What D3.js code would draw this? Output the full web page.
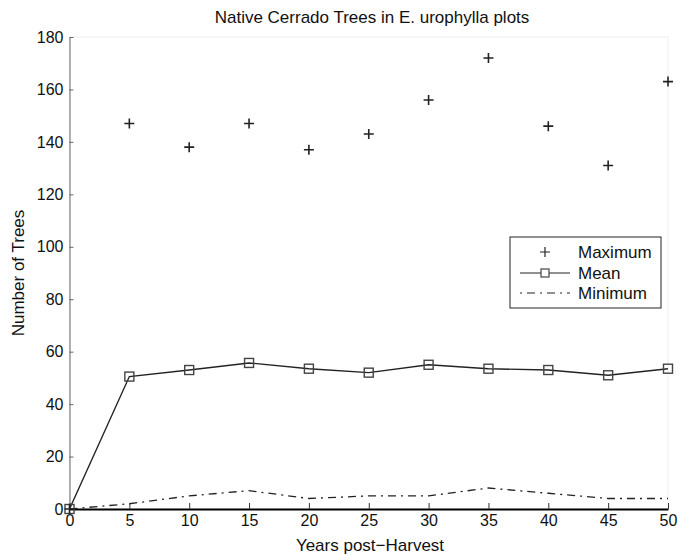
<!DOCTYPE html>
<html>
<head>
<meta charset="utf-8">
<script src="https://cdn.jsdelivr.net/npm/d3@7"></script>
<style>
  body { margin: 0; background: #fff; }
  svg { display: block; font-family: "Liberation Sans", Arial, sans-serif; }
</style>
</head>
<body>
<div id="chart"></div>
<script>
// values
const years = [0, 5, 10, 15, 20, 25, 30, 35, 40, 45, 50];
const maxTrees = [0, 147, 138, 147, 137, 143, 156, 172, 146, 131, 163];
const meanTrees = [0, 50.5, 53, 55.7, 53.5, 52, 55, 53.5, 53, 51, 53.5];
const minTrees = [0, 2, 5, 7, 4, 5, 5, 8, 6, 4, 4];
const xTicks = [0, 5, 10, 15, 20, 25, 30, 35, 40, 45, 50];
const yTicks = [0, 20, 40, 60, 80, 100, 120, 140, 160, 180];
const legendLabels = ['Maximum', 'Mean', 'Minimum'];

const width = 678, height = 555;
const margins = { left: 69.5, right: 10, top: 37, bottom: 46 };

const svg = d3.select('#chart').append('svg')
  .attr('width', width)
  .attr('height', height);

const x = d3.scaleLinear()
  .domain([0, 50])
  .range([margins.left, width - margins.right]);

const y = d3.scaleLinear()
  .domain([0, 180])
  .range([height - margins.bottom, margins.top]);

// faint box on top / right like matlab
svg.append('rect')
  .attr('x', x(0)).attr('y', y(180))
  .attr('width', x(50) - x(0)).attr('height', y(0) - y(180))
  .attr('fill', 'none').attr('stroke', '#eee');

// y axis, ticks pointing in
const yAxis = d3.axisLeft(y).tickValues(yTicks).tickSizeInner(-4).tickSizeOuter(0).tickPadding(6);
const gy = svg.append('g')
  .attr('transform', 'translate(' + x(0) + ',0)')
  .call(yAxis);
gy.select('.domain').attr('stroke', '#666');
gy.selectAll('.tick line').attr('stroke', '#666');
gy.selectAll('text').attr('font-size', 16).attr('fill', '#111');

// x axis
const xAxis = d3.axisBottom(x).tickValues(xTicks).tickSizeInner(-6).tickSizeOuter(0).tickPadding(6);
const gx = svg.append('g')
  .attr('transform', 'translate(0,' + y(0) + ')')
  .call(xAxis);
gx.select('.domain').attr('stroke', '#000').attr('stroke-width', 2);
gx.selectAll('.tick line').attr('stroke', '#333');
gx.selectAll('text').attr('font-size', 16).attr('fill', '#111');

// minimum: dash-dot line
svg.append('path')
  .datum(years.map((d, i) => [d, minTrees[i]]))
  .attr('fill', 'none')
  .attr('stroke', '#222')
  .attr('stroke-width', 1.3)
  .attr('stroke-dasharray', '8,5,2,5')
  .attr('d', d3.line().x(d => x(d[0])).y(d => y(d[1])));

// mean: solid line with squares
svg.append('path')
  .datum(years.map((d, i) => [d, meanTrees[i]]))
  .attr('fill', 'none')
  .attr('stroke', '#222')
  .attr('stroke-width', 1.4)
  .attr('d', d3.line().x(d => x(d[0])).y(d => y(d[1])));

const sq = 9;
svg.selectAll('.mean-pt')
  .data(years.map((d, i) => [d, meanTrees[i]]))
  .join('rect')
  .attr('class', 'mean-pt')
  .attr('x', d => x(d[0]) - sq / 2)
  .attr('y', d => y(d[1]) - sq / 2)
  .attr('width', sq).attr('height', sq)
  .attr('fill', 'none')
  .attr('stroke', '#444')
  .attr('stroke-width', 1.4);

// maximum: plus markers only
const plus = 5;
const plusPath = (cx, cy) =>
  'M' + (cx - plus) + ',' + cy + 'H' + (cx + plus) +
  'M' + cx + ',' + (cy - plus) + 'V' + (cy + plus);

svg.selectAll('.max-pt')
  .data(years.map((d, i) => [d, maxTrees[i]]))
  .join('path')
  .attr('class', 'max-pt')
  .attr('d', d => plusPath(x(d[0]), y(d[1])))
  .attr('stroke', '#222')
  .attr('stroke-width', 1.6);

// title and labels
svg.append('text')
  .attr('x', 372).attr('y', 23)
  .attr('text-anchor', 'middle')
  .attr('font-size', 17)
  .attr('fill', '#111')
  .text('Native Cerrado Trees in E. urophylla plots');

svg.append('text')
  .attr('x', 370).attr('y', 551)
  .attr('text-anchor', 'middle')
  .attr('font-size', 17)
  .attr('fill', '#111')
  .text('Years post\u2212Harvest');

svg.append('text')
  .attr('transform', 'translate(24,' + ((y(0) + y(180)) / 2) + ') rotate(-90)')
  .attr('text-anchor', 'middle')
  .attr('font-size', 17)
  .attr('fill', '#111')
  .text('Number of Trees');

// legend
const legend = svg.append('g').attr('transform', 'translate(510,237)');
legend.append('rect')
  .attr('width', 151).attr('height', 71)
  .attr('fill', '#fff').attr('stroke', '#222').attr('stroke-width', 1);

const rowY = [15, 36, 56];
legend.selectAll('.lbl')
  .data(legendLabels)
  .join('text')
  .attr('class', 'lbl')
  .attr('x', 68).attr('y', (d, i) => rowY[i] + 6)
  .attr('font-size', 17)
  .attr('fill', '#111')
  .text(d => d);

legend.append('path').attr('d', plusPath(35, rowY[0])).attr('stroke', '#222').attr('stroke-width', 1.2);
legend.append('line')
  .attr('x1', 10).attr('x2', 60).attr('y1', rowY[1]).attr('y2', rowY[1])
  .attr('stroke', '#222').attr('stroke-width', 1.2);
legend.append('rect')
  .attr('x', 35 - 4).attr('y', rowY[1] - 4).attr('width', 8).attr('height', 8)
  .attr('fill', '#fff').attr('stroke', '#444').attr('stroke-width', 1.2);
legend.append('line')
  .attr('x1', 10).attr('x2', 60).attr('y1', rowY[2]).attr('y2', rowY[2])
  .attr('stroke', '#222').attr('stroke-width', 1.2)
  .attr('stroke-dasharray', '2,5,8,5');
</script>
</body>
</html>
